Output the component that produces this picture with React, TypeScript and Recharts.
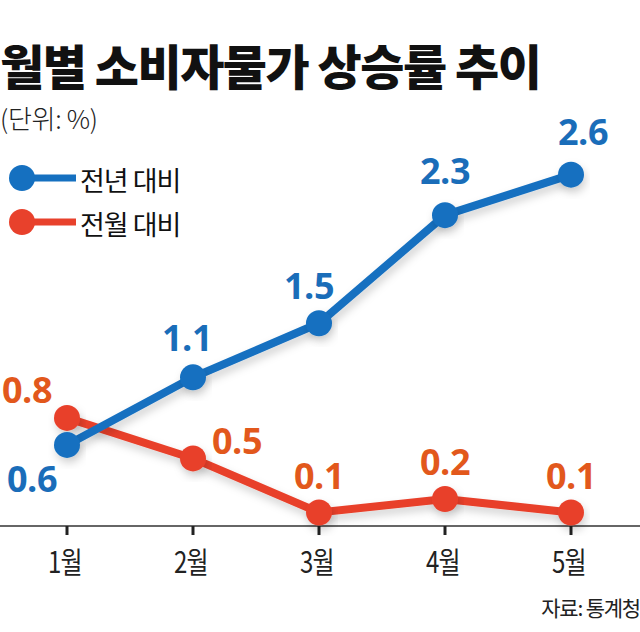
import React from 'react';
import { LineChart, Line, XAxis, YAxis, LabelList } from 'recharts';

const months = ['1월', '2월', '3월', '4월', '5월'];
const yearOverYear = [0.6, 1.1, 1.5, 2.3, 2.6];
const monthOverMonth = [0.8, 0.5, 0.1, 0.2, 0.1];

const data = months.map((m, i) => ({ month: m, yoy: yearOverYear[i], mom: monthOverMonth[i] }));

const BLUE = '#1570c0';
const BLUE_TXT = '#1a6db9';
const RED = '#e8412c';
const RED_TXT = '#e2581c';

// label offsets (dx, dy from point to text center)
const yoyLabelOffset = [[-35, 34], [-6, -40], [-10, -38], [0, -45], [12, -43]];
const momLabelOffset = [[-40, -28], [44, -18], [0, -37], [0, -37], [0, -37]];

const FONT_NUM = '"Open Sans", "Noto Sans", sans-serif';
const FONT_KR = '"Noto Sans CJK KR", sans-serif';

const makeLabel = (offsets: number[][], color: string) => (props: any) => {
  const { x, y, value, index } = props;
  const [dx, dy] = offsets[index];
  return (
    <text
      x={x + dx}
      y={y + dy}
      textAnchor="middle"
      dominantBaseline="central"
      fill={color}
      fontFamily={FONT_NUM}
      fontWeight={700}
      fontSize={36}
      letterSpacing={-0.5}
    >
      {value}
    </text>
  );
};

const Tick = (props: any) => {
  const { x, y, payload } = props;
  return (
    <text
      transform={`translate(${x - 2}, ${y + 23}) scale(0.8, 1)`}
      textAnchor="middle"
      dominantBaseline="central"
      fill="#222"
      fontFamily={FONT_KR}
      fontSize={30}
      letterSpacing={-1}
    >
      {payload.value}
    </text>
  );
};

const legendItems = [
  { label: '전년 대비', color: BLUE },
  { label: '전월 대비', color: RED },
];

export default function App() {
  return (
    <div style={{ position: 'absolute', left: 0, top: 0, width: 640, height: 632, background: '#fff', overflow: 'hidden' }}>
      <LineChart width={640} height={632} data={data} margin={{ top: 53, right: 0, bottom: 0, left: 0 }}>
        <defs>
          <filter id="sh" x="-20%" y="-20%" width="140%" height="160%">
            <feDropShadow dx="2" dy="5" stdDeviation="4" floodColor="#000" floodOpacity="0.18" />
          </filter>
        </defs>
        <XAxis
          dataKey="month"
          padding={{ left: 67, right: 69 }}
          height={106}
          axisLine={{ stroke: '#333', strokeWidth: 1.5 }}
          tickLine={{ stroke: '#222', strokeWidth: 3 }}
          tickSize={9}
          tick={<Tick />}
          interval={0}
        />
        <YAxis hide domain={[0, 3.5]} />
        <Line
          dataKey="mom"
          stroke={RED}
          strokeWidth={8}
          dot={{ r: 13, fill: RED, stroke: RED, strokeWidth: 0 }}
          isAnimationActive={false}
          style={{ filter: 'url(#sh)' }}
        >
          <LabelList dataKey="mom" content={makeLabel(momLabelOffset, RED_TXT)} />
        </Line>
        <Line
          dataKey="yoy"
          stroke={BLUE}
          strokeWidth={8}
          dot={{ r: 13, fill: BLUE, stroke: BLUE, strokeWidth: 0 }}
          isAnimationActive={false}
          style={{ filter: 'url(#sh)' }}
        >
          <LabelList dataKey="yoy" content={makeLabel(yoyLabelOffset, BLUE_TXT)} />
        </Line>
      </LineChart>
      <svg width={220} height={90} style={{ position: 'absolute', left: 0, top: 160 }}>
        {legendItems.map((it, i) => (
          <g key={it.label} transform={`translate(0, ${i * 44})`}>
            <line x1={22} y1={18} x2={76} y2={18} stroke={it.color} strokeWidth={7} />
            <circle cx={22} cy={18} r={13} fill={it.color} />
            <text x={80} y={19} dominantBaseline="central" fontFamily={FONT_KR} fontSize={27} fill="#111" letterSpacing={-1}>
              {it.label}
            </text>
          </g>
        ))}
      </svg>
      <div style={{ position: 'absolute', left: 0, top: 39, fontFamily: FONT_KR, fontWeight: 900, fontSize: 48, letterSpacing: -1.5, color: '#111', whiteSpace: 'nowrap', lineHeight: '50px' }}>
        월별 소비자물가 상승률 추이
      </div>
      <div style={{ position: 'absolute', left: 0, top: 103, fontFamily: FONT_KR, fontWeight: 300, fontSize: 26, letterSpacing: -0.3, color: '#222', whiteSpace: 'nowrap', lineHeight: '30px' }}>
        (단위: %)
      </div>
      <div style={{ position: 'absolute', right: 0, top: 592, fontFamily: FONT_KR, fontSize: 21, letterSpacing: -1.2, color: '#222', whiteSpace: 'nowrap', lineHeight: '30px' }}>
        자료: 통계청
      </div>
    </div>
  );
}
